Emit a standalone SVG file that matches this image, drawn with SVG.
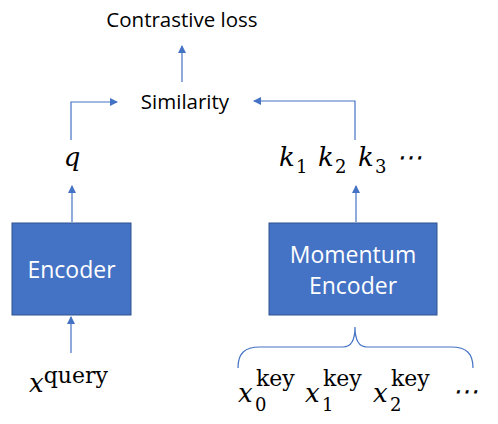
<svg xmlns="http://www.w3.org/2000/svg" width="498" height="424" viewBox="0 0 498 424">
<defs>
<marker id="ah" markerWidth="8" markerHeight="8" refX="7" refY="4" orient="auto" markerUnits="userSpaceOnUse">
<path d="M0,0 L8,4 L0,8 Z" fill="#4472C4"/>
</marker>
<style>
.lbl{font-family:"Open Sans","Liberation Sans",sans-serif;font-size:20.5px;fill:#000}
.box{fill:#4472C4;stroke:#2F528F;stroke-width:1}
.btxt{font-family:"Open Sans","Liberation Sans",sans-serif;font-size:23px;fill:#fff;text-anchor:middle}
.conn{fill:none;stroke:#4472C4;stroke-width:1.2}
.m{font-family:"DejaVu Serif","Liberation Serif",serif;font-style:italic;font-size:26px;fill:#000}
.up{font-family:"DejaVu Serif","Liberation Serif",serif;font-style:normal;fill:#000}
.sub{font-family:"DejaVu Serif","Liberation Serif",serif;font-style:normal;font-size:18px;fill:#000}
</style>
</defs>
<g id="connectors">
<path class="conn" d="M182,82 V46" marker-end="url(#ah)"/>
<path class="conn" d="M71,140 V102 H117" marker-end="url(#ah)"/>
<path class="conn" d="M355,140 V101 H254" marker-end="url(#ah)"/>
<path class="conn" d="M72,222 V186" marker-end="url(#ah)"/>
<path class="conn" d="M356,222 V186" marker-end="url(#ah)"/>
<path class="conn" d="M71,353 V317" marker-end="url(#ah)"/>
<path class="conn" d="M238,368 C238,354 244,347 260,347 L343,347 C351,347 355,340 355,327 C355,340 359,347 367,347 L451,347 C467,347 473,354 473,368"/>
</g>
<g id="contrastive-loss"><text class="lbl" x="182" y="27" text-anchor="middle">Contrastive loss</text></g>
<g id="similarity"><text class="lbl" x="185" y="109" text-anchor="middle">Similarity</text></g>
<g id="q"><text class="m" x="72" y="166" text-anchor="middle">q</text></g>
<g id="keys">
<text class="m" x="279" y="166">k</text><text class="sub" x="296" y="173">1</text>
<text class="m" x="318" y="166">k</text><text class="sub" x="335" y="173">2</text>
<text class="m" x="358" y="166">k</text><text class="sub" x="375" y="173">3</text>
<text class="m" x="396" y="166" font-style="normal">⋯</text>
</g>
<g id="encoder">
<rect class="box" x="12" y="223" width="119" height="92"/>
<text class="btxt" x="71.5" y="278">Encoder</text>
</g>
<g id="momentum-encoder">
<rect class="box" x="269" y="223" width="168" height="92"/>
<text class="btxt" x="353" y="263">Momentum</text>
<text class="btxt" x="353" y="294">Encoder</text>
</g>
<g id="x-query"><text class="m" x="29" y="392">x<tspan class="up" font-size="22" dy="-9">query</tspan></text></g>
<g id="x-keys">
<text class="m" x="238" y="402">x</text><text class="up" font-size="22" x="256" y="386">key</text><text class="sub" x="255" y="411">0</text>
<text class="m" x="305" y="402">x</text><text class="up" font-size="22" x="323" y="386">key</text><text class="sub" x="322" y="411">1</text>
<text class="m" x="373" y="402">x</text><text class="up" font-size="22" x="391" y="386">key</text><text class="sub" x="390" y="411">2</text>
<text class="m" x="452" y="400" font-style="normal">⋯</text>
</g>
</svg>
